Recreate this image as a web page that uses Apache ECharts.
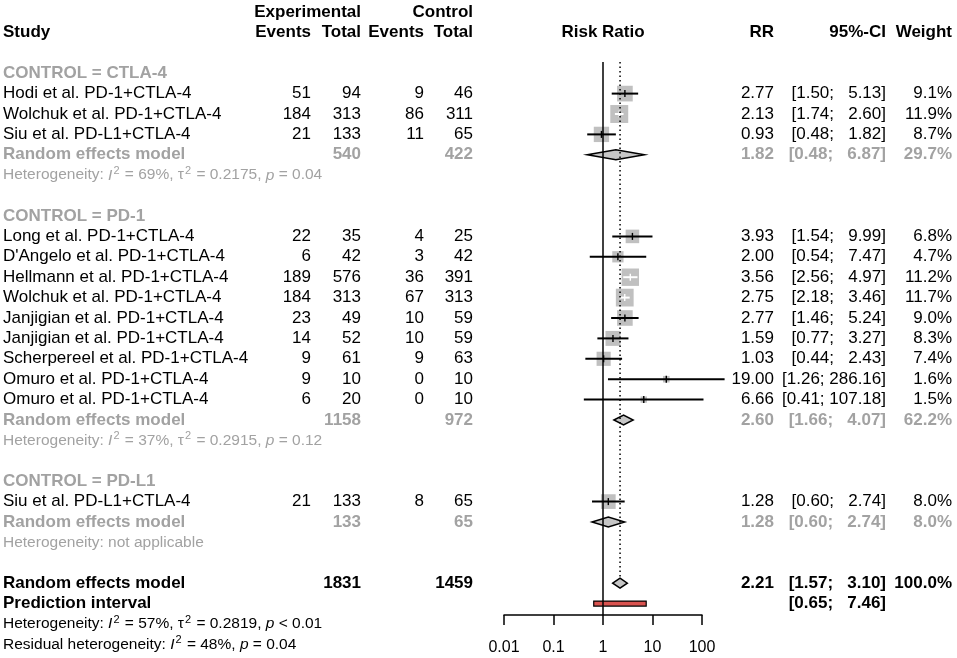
<!DOCTYPE html>
<html>
<head>
<meta charset="utf-8">
<script src="https://cdn.jsdelivr.net/npm/echarts@6/dist/echarts.min.js"></script>
<style>
  html, body { margin: 0; padding: 0; background: #fff; }
  #main { width: 957px; height: 658px; }
</style>
</head>
<body>
<div id="main"></div>
<script>
// subgroups
const groupLabels = ['CONTROL = CTLA-4', 'CONTROL = PD-1', 'CONTROL = PD-L1'];
const groupSize = [3, 9, 1];

// studies
const studies = [
  'Hodi et al. PD-1+CTLA-4', 'Wolchuk et al. PD-1+CTLA-4', 'Siu et al. PD-L1+CTLA-4',
  'Long et al. PD-1+CTLA-4', "D'Angelo et al. PD-1+CTLA-4", 'Hellmann et al. PD-1+CTLA-4',
  'Wolchuk et al. PD-1+CTLA-4', 'Janjigian et al. PD-1+CTLA-4', 'Janjigian et al. PD-1+CTLA-4',
  'Scherpereel et al. PD-1+CTLA-4', 'Omuro et al. PD-1+CTLA-4', 'Omuro et al. PD-1+CTLA-4',
  'Siu et al. PD-L1+CTLA-4'
];
const expEvents = [51, 184, 21, 22, 6, 189, 184, 23, 14, 9, 9, 6, 21];
const expTotal  = [94, 313, 133, 35, 42, 576, 313, 49, 52, 61, 10, 20, 133];
const ctlEvents = [9, 86, 11, 4, 3, 36, 67, 10, 10, 9, 0, 0, 8];
const ctlTotal  = [46, 311, 65, 25, 42, 391, 313, 59, 59, 63, 10, 10, 65];
const rr     = [2.77, 2.13, 0.93, 3.93, 2.00, 3.56, 2.75, 2.77, 1.59, 1.03, 19.00, 6.66, 1.28];
const ciLow  = [1.50, 1.74, 0.48, 1.54, 0.54, 2.56, 2.18, 1.46, 0.77, 0.44, 1.26, 0.41, 0.60];
const ciHigh = [5.13, 2.60, 1.82, 9.99, 7.47, 4.97, 3.46, 5.24, 3.27, 2.43, 286.16, 107.18, 2.74];
const weight = [9.1, 11.9, 8.7, 6.8, 4.7, 11.2, 11.7, 9.0, 8.3, 7.4, 1.6, 1.5, 8.0];

// subgroup random effects
const groupExpTotal = [540, 1158, 133];
const groupCtlTotal = [422, 972, 65];
const groupRR     = [1.82, 2.60, 1.28];
const groupLow    = [0.48, 1.66, 0.60];
const groupHigh   = [6.87, 4.07, 2.74];
const groupWeight = [29.7, 62.2, 8.0];
const groupI2   = ['69%', '37%', null];
const groupTau2 = ['0.2175', '0.2915', null];
const groupP    = ['= 0.04', '= 0.12', null];

// overall
const overallExp = 1831, overallCtl = 1459;
const overallRR = 2.21, overallLow = 1.57, overallHigh = 3.10, overallWeight = 100.0;
const predLow = 0.65, predHigh = 7.46;
const overallI2 = '57%', overallTau2 = '0.2819', overallP = '< 0.01';
const residI2 = '48%', residP = '= 0.04';

const xTicks = [0.01, 0.1, 1, 10, 100];

// layout
const FONT = '"Liberation Sans", Arial, sans-serif';
const ROW_TOP = 12, ROW_H = 20.4;
const PLOT_TOP = 62, PLOT_BOTTOM = 615;
const GRAY = '#a2a2a2';
const col = { study: 3, expEv: 311, expTot: 361, ctlEv: 424, ctlTot: 473, plot: 603, rr: 774, ci: 886, w: 952 };

function ci(lo, hi) {
  return '[' + lo.toFixed(2) + '; ' + hi.toFixed(2).padStart(6, ' ') + ']';
}
function het(i2, tau2, p) {
  let s = 'Heterogeneity: {it|I}{sup|2} = ' + i2;
  if (tau2) s += ', τ{sup|2} = ' + tau2;
  return s + ', {it|p} ' + p;
}

const cells = [];
function cell(x, row, text, opt) {
  cells.push(Object.assign({ x: x, row: row, text: String(text), align: 'right', color: '#000', size: 17, weight: 'normal' }, opt || {}));
}

// header
cell(col.expTot, 0, 'Experimental', { weight: 'bold' });
cell(col.ctlTot, 0, 'Control', { weight: 'bold' });
cell(col.study, 1, 'Study', { weight: 'bold', align: 'left' });
cell(col.expEv, 1, 'Events', { weight: 'bold' });
cell(col.expTot, 1, 'Total', { weight: 'bold' });
cell(col.ctlEv, 1, 'Events', { weight: 'bold' });
cell(col.ctlTot, 1, 'Total', { weight: 'bold' });
cell(col.plot, 1, 'Risk Ratio', { weight: 'bold', align: 'center' });
cell(col.rr, 1, 'RR', { weight: 'bold' });
cell(col.ci, 1, '95%-CI', { weight: 'bold' });
cell(col.w, 1, 'Weight', { weight: 'bold' });

const studyPts = [];
const diamonds = [];
let row = 3, s = 0;
groupLabels.forEach(function (label, g) {
  cell(col.study, row, label, { align: 'left', weight: 'bold', color: GRAY });
  row++;
  for (let k = 0; k < groupSize[g]; k++, s++) {
    cell(col.study, row, studies[s], { align: 'left' });
    cell(col.expEv, row, expEvents[s]);
    cell(col.expTot, row, expTotal[s]);
    cell(col.ctlEv, row, ctlEvents[s]);
    cell(col.ctlTot, row, ctlTotal[s]);
    cell(col.rr, row, rr[s].toFixed(2));
    cell(col.ci, row, ci(ciLow[s], ciHigh[s]));
    cell(col.w, row, weight[s].toFixed(1) + '%');
    studyPts.push([rr[s], row, ciLow[s], ciHigh[s], weight[s]]);
    row++;
  }
  const gs = { weight: 'bold', color: GRAY };
  cell(col.study, row, 'Random effects model', Object.assign({ align: 'left' }, gs));
  cell(col.expTot, row, groupExpTotal[g], gs);
  cell(col.ctlTot, row, groupCtlTotal[g], gs);
  cell(col.rr, row, groupRR[g].toFixed(2), gs);
  cell(col.ci, row, ci(groupLow[g], groupHigh[g]), gs);
  cell(col.w, row, groupWeight[g].toFixed(1) + '%', gs);
  diamonds.push([groupRR[g], row, groupLow[g], groupHigh[g]]);
  row++;
  cell(col.study, row, groupI2[g] ? het(groupI2[g], groupTau2[g], groupP[g]) : 'Heterogeneity: not applicable',
    { align: 'left', color: GRAY, size: 15.5 });
  row += 2;
});

// overall
cell(col.study, row, 'Random effects model', { align: 'left', weight: 'bold' });
cell(col.expTot, row, overallExp, { weight: 'bold' });
cell(col.ctlTot, row, overallCtl, { weight: 'bold' });
cell(col.rr, row, overallRR.toFixed(2), { weight: 'bold' });
cell(col.ci, row, ci(overallLow, overallHigh), { weight: 'bold' });
cell(col.w, row, overallWeight.toFixed(1) + '%', { weight: 'bold' });
diamonds.push([overallRR, row, overallLow, overallHigh]);
const overallRow = row;
row++;
cell(col.study, row, 'Prediction interval', { align: 'left', weight: 'bold' });
cell(col.ci, row, ci(predLow, predHigh), { weight: 'bold' });
const predRow = row;
row++;
cell(col.study, row, het(overallI2, overallTau2, overallP), { align: 'left', size: 15.5 });
row++;
cell(col.study, row, 'Residual heterogeneity: {it|I}{sup|2} = ' + residI2 + ', {it|p} ' + residP, { align: 'left', size: 15.5 });

const yMin = (PLOT_TOP - ROW_TOP) / ROW_H;
const yMax = (PLOT_BOTTOM - ROW_TOP) / ROW_H;

const chart = echarts.init(document.getElementById('main'));
chart.setOption({
  animation: false,
  backgroundColor: '#fff',
  grid: [
    { left: 0, top: ROW_TOP, width: 957, height: ROW_H * 31 },
    { left: 504, width: 198, top: PLOT_TOP, height: PLOT_BOTTOM - PLOT_TOP }
  ],
  xAxis: [
    { gridIndex: 0, type: 'value', min: 0, max: 957, show: false },
    {
      gridIndex: 1, type: 'log', logBase: 10, min: xTicks[0], max: xTicks[xTicks.length - 1],
      axisLine: { onZero: false, lineStyle: { color: '#000', width: 1.5 } },
      axisTick: { length: 10, lineStyle: { color: '#000', width: 1.5 } },
      axisLabel: {
        margin: 25, color: '#000', fontSize: 16, fontFamily: FONT,
        formatter: function (v) { return String(xTicks.find(function (t) { return Math.abs(t - v) / t < 1e-6; }) || ''); }
      },
      splitLine: { show: false }
    }
  ],
  yAxis: [
    { gridIndex: 0, type: 'value', min: 0, max: 31, inverse: true, show: false },
    { gridIndex: 1, type: 'value', min: yMin, max: yMax, inverse: true, show: false }
  ],
  series: [
    {
      type: 'custom', xAxisIndex: 0, yAxisIndex: 0, silent: true,
      data: cells.map(function (c) { return [c.x, c.row]; }),
      renderItem: function (params, api) {
        const c = cells[params.dataIndex];
        const p = api.coord([c.x, c.row]);
        return {
          type: 'text', x: p[0], y: p[1],
          style: {
            text: c.text, fill: c.color, fontFamily: FONT, fontSize: c.size, fontWeight: c.weight,
            align: c.align, verticalAlign: 'middle', lineHeight: 20,
            rich: {
              it: { fontStyle: 'italic', fontFamily: FONT, fontSize: c.size, fill: c.color, lineHeight: 20 },
              sup: { fontFamily: FONT, fontSize: 11, fill: c.color, lineHeight: 11, verticalAlign: 'top', padding: [0, 1, 0, 1] }
            }
          }
        };
      }
    },
    {
      type: 'line', xAxisIndex: 1, yAxisIndex: 1, silent: true, symbol: 'none',
      data: [[1, yMin], [1, yMax]],
      lineStyle: { color: '#000', width: 1.5 }
    },
    {
      type: 'line', xAxisIndex: 1, yAxisIndex: 1, silent: true, symbol: 'none',
      data: [[overallRR, yMin], [overallRR, overallRow - 0.28]],
      lineStyle: { color: '#000', width: 1.5, type: [1.5, 3] }
    },
    {
      type: 'custom', xAxisIndex: 1, yAxisIndex: 1, silent: true, clip: false,
      data: studyPts,
      renderItem: function (params, api) {
        const p = api.coord([api.value(0), api.value(1)]);
        const lo = api.coord([api.value(2), api.value(1)]);
        const hi = api.coord([api.value(3), api.value(1)]);
        const sz = 5.2 * Math.sqrt(api.value(4));
        const inside = lo[0] >= p[0] - sz / 2 && hi[0] <= p[0] + sz / 2;
        const c = inside ? '#fff' : '#000';
        return {
          type: 'group',
          children: [
            { type: 'rect', shape: { x: p[0] - sz / 2, y: p[1] - sz / 2, width: sz, height: sz }, style: { fill: '#c0c0c0' } },
            { type: 'line', shape: { x1: lo[0], y1: p[1], x2: hi[0], y2: p[1] }, style: { stroke: c, lineWidth: 2 } },
            { type: 'line', shape: { x1: p[0], y1: p[1] - 3.5, x2: p[0], y2: p[1] + 3.5 }, style: { stroke: c, lineWidth: 1.4 } }
          ]
        };
      }
    },
    {
      type: 'custom', xAxisIndex: 1, yAxisIndex: 1, silent: true, clip: false,
      data: diamonds,
      renderItem: function (params, api) {
        const p = api.coord([api.value(0), api.value(1)]);
        const lo = api.coord([api.value(2), api.value(1)]);
        const hi = api.coord([api.value(3), api.value(1)]);
        const h = 5;
        return {
          type: 'polygon',
          shape: { points: [[lo[0], p[1]], [p[0], p[1] - h], [hi[0], p[1]], [p[0], p[1] + h]] },
          style: { fill: '#c6c6c6', stroke: '#000', lineWidth: 1.5 }
        };
      }
    },
    {
      type: 'custom', xAxisIndex: 1, yAxisIndex: 1, silent: true, clip: false,
      data: [[predLow, predRow, predHigh]],
      renderItem: function (params, api) {
        const lo = api.coord([api.value(0), api.value(1)]);
        const hi = api.coord([api.value(2), api.value(1)]);
        return {
          type: 'rect',
          shape: { x: lo[0], y: lo[1] - 2.5, width: hi[0] - lo[0], height: 5 },
          style: { fill: '#d9534f', stroke: '#000', lineWidth: 1.2 }
        };
      }
    }
  ]
});
</script>
</body>
</html>
